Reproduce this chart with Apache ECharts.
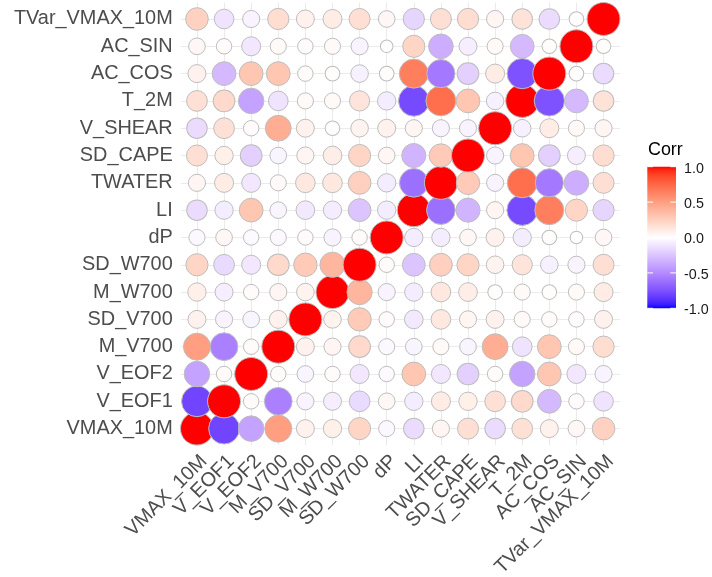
<!DOCTYPE html>
<html>
<head>
<meta charset="utf-8">
<script src="https://cdn.jsdelivr.net/npm/echarts@6/dist/echarts.min.js"></script>
<style>
  html, body { margin: 0; padding: 0; background: #ffffff; }
  #chart { width: 712px; height: 577px; }
</style>
</head>
<body>
<div id="chart"></div>
<script>
// Variable names, in axis order (x: left to right, y: bottom to top)
const variables = ['VMAX_10M', 'V_EOF1', 'V_EOF2', 'M_V700', 'SD_V700', 'M_W700', 'SD_W700', 'dP',
  'LI', 'TWATER', 'SD_CAPE', 'V_SHEAR', 'T_2M', 'AC_COS', 'AC_SIN', 'TVar_VMAX_10M'];

// Correlation matrix, one row per variable (same order as above)
const corrRows = [
  [1, -0.8, -0.4, 0.5, 0.07, 0.08, 0.22, -0.03, -0.15, 0.05, 0.17, -0.15, 0.16, 0.07, 0.04, 0.24],
  [-0.8, 1, 0.02, -0.55, -0.05, -0.07, -0.16, 0.04, -0.08, 0.1, 0.08, 0.16, 0.2, -0.3, 0.02, -0.12],
  [-0.4, 0.02, 1, 0.02, -0.04, 0.02, -0.1, -0.02, 0.3, -0.1, -0.2, 0.02, -0.4, 0.3, -0.1, -0.05],
  [0.5, -0.55, 0.02, 1, 0.07, 0.05, 0.2, -0.03, -0.04, 0.03, -0.04, 0.42, -0.12, 0.3, 0.03, 0.18],
  [0.07, -0.05, -0.04, 0.07, 1, 0.06, 0.28, 0.02, -0.09, 0.12, 0.05, 0.07, 0.03, 0.02, 0.02, 0.07],
  [0.08, -0.07, 0.02, 0.05, 0.06, 1, 0.38, -0.05, -0.08, 0.12, 0.09, 0.01, 0.03, 0.01, 0.03, 0.1],
  [0.22, -0.16, -0.1, 0.2, 0.28, 0.38, 1, 0.02, -0.25, 0.25, 0.22, 0.06, 0.14, -0.06, -0.05, 0.17],
  [-0.03, 0.04, -0.02, -0.03, 0.02, -0.05, 0.02, 1, -0.08, -0.08, 0.04, 0.07, -0.08, 0.01, 0.0, 0.04],
  [-0.15, -0.08, 0.3, -0.04, -0.09, -0.08, -0.25, -0.08, 1, -0.62, -0.32, 0.05, -0.78, 0.65, 0.22, -0.18],
  [0.05, 0.1, -0.1, 0.03, 0.12, 0.12, 0.25, -0.08, -0.62, 1, 0.28, -0.05, 0.72, -0.58, -0.35, 0.17],
  [0.17, 0.08, -0.2, -0.04, 0.05, 0.09, 0.22, 0.04, -0.32, 0.28, 1, -0.05, 0.3, -0.2, -0.07, 0.18],
  [-0.15, 0.16, 0.02, 0.42, 0.07, 0.01, 0.06, 0.07, 0.05, -0.05, -0.05, 1, -0.06, 0.1, 0.03, 0.05],
  [0.16, 0.2, -0.4, -0.12, 0.03, 0.03, 0.14, -0.08, -0.78, 0.72, 0.3, -0.06, 1, -0.75, -0.3, 0.15],
  [0.07, -0.3, 0.3, 0.3, 0.02, 0.01, -0.06, 0.01, 0.65, -0.58, -0.2, 0.1, -0.75, 1, 0.01, -0.15],
  [0.04, 0.02, -0.1, 0.03, 0.02, 0.03, -0.05, 0.0, 0.22, -0.35, -0.07, 0.03, -0.3, 0.01, 1, 0.01],
  [0.24, -0.12, -0.05, 0.18, 0.07, 0.1, 0.17, 0.04, -0.18, 0.17, 0.18, 0.05, 0.15, -0.15, 0.01, 1]
];

// Colour bar breaks
const legendBreaks = [-1, -0.5, 0, 0.5, 1];
const legendTitle = 'Corr';

// ---- diverging blue / white / red palette, interpolated in CIE Lab ----
function toLinear(c) { c /= 255; return c <= 0.04045 ? c / 12.92 : Math.pow((c + 0.055) / 1.055, 2.4); }
function toGamma(c) { const v = c <= 0.0031308 ? 12.92 * c : 1.055 * Math.pow(c, 1 / 2.4) - 0.055; return Math.round(Math.max(0, Math.min(1, v)) * 255); }
const WX = 0.95047, WY = 1.0, WZ = 1.08883;
function rgbToLab(rgb) {
  const r = toLinear(rgb[0]), g = toLinear(rgb[1]), b = toLinear(rgb[2]);
  const x = (0.4124 * r + 0.3576 * g + 0.1805 * b) / WX;
  const y = (0.2126 * r + 0.7152 * g + 0.0722 * b) / WY;
  const z = (0.0193 * r + 0.1192 * g + 0.9505 * b) / WZ;
  const f = t => t > 216 / 24389 ? Math.cbrt(t) : (24389 / 27 * t + 16) / 116;
  const fx = f(x), fy = f(y), fz = f(z);
  return [116 * fy - 16, 500 * (fx - fy), 200 * (fy - fz)];
}
function labToRgb(lab) {
  const fy = (lab[0] + 16) / 116, fx = fy + lab[1] / 500, fz = fy - lab[2] / 200;
  const inv = t => t * t * t > 216 / 24389 ? t * t * t : (116 * t - 16) / (24389 / 27);
  const x = inv(fx) * WX, y = inv(fy) * WY, z = inv(fz) * WZ;
  const r = 3.2406 * x - 1.5372 * y - 0.4986 * z;
  const g = -0.9689 * x + 1.8758 * y + 0.0415 * z;
  const b = 0.0557 * x - 0.2040 * y + 1.0570 * z;
  return 'rgb(' + toGamma(r) + ',' + toGamma(g) + ',' + toGamma(b) + ')';
}
const LAB_LOW = rgbToLab([0, 0, 255]), LAB_MID = rgbToLab([255, 255, 255]), LAB_HIGH = rgbToLab([255, 0, 0]);
function corrColor(v) {
  const end = v < 0 ? LAB_LOW : LAB_HIGH, t = Math.min(1, Math.abs(v));
  return labToRgb([0, 1, 2].map(k => LAB_MID[k] + (end[k] - LAB_MID[k]) * t));
}
const paletteStops = [];
for (let k = 0; k <= 40; k++) paletteStops.push(corrColor(-1 + k / 20));

// ---- scatter data: [x index, y index, r], drawn row by row from the bottom ----
const points = [];
for (let yi = 0; yi < variables.length; yi++) {
  for (let xi = 0; xi < variables.length; xi++) {
    points.push([xi, yi, corrRows[yi][xi]]);
  }
}
const idx = variables.map((_, i) => i);
const FONT = '"Liberation Sans", Arial, sans-serif';

const chart = echarts.init(document.getElementById('chart'), null, { renderer: 'canvas' });

// Plot panel: each axis spans from -0.6 to n-1+0.6 (panel padding around the cells)
const n = variables.length, pad = 0.6;
const panel = { left: 180.7, top: 2.6, width: 439.1, height: 442.4 };
const unitX = panel.width / (n - 1 + 2 * pad), unitY = panel.height / (n - 1 + 2 * pad);
// Label band grid: one band per variable, centred on the same positions
const bands = {
  left: panel.left + (pad - 0.5) * unitX, width: n * unitX,
  top: panel.top + (pad - 0.5) * unitY, height: n * unitY
};

// Colour bar geometry
const bar = { x: 647.3, y: 166.7, w: 28.7, h: 141.6 };
const barY = v => bar.y + (1 - (v + 1) / 2) * bar.h;
const barGradient = [];
for (let k = 0; k <= 40; k++) barGradient.push({ offset: k / 40, color: corrColor(1 - k / 20) });

const legendGraphics = [
  { type: 'text', left: 648, top: 141, style: { text: legendTitle, font: '17.9px ' + FONT, fill: '#000000' } },
  { type: 'rect', shape: { x: bar.x, y: bar.y, width: bar.w, height: bar.h },
    style: { fill: new echarts.graphic.LinearGradient(0, 0, 0, 1, barGradient) } }
];
legendBreaks.forEach(v => {
  const y = barY(v);
  legendGraphics.push({ type: 'line', shape: { x1: bar.x, y1: y, x2: bar.x + bar.w / 5, y2: y }, style: { stroke: '#ffffff', lineWidth: 1 } });
  legendGraphics.push({ type: 'line', shape: { x1: bar.x + bar.w * 4 / 5, y1: y, x2: bar.x + bar.w, y2: y }, style: { stroke: '#ffffff', lineWidth: 1 } });
  legendGraphics.push({ type: 'text', x: 684, y: y + 2,
    style: { text: v.toFixed(1), font: '14.3px ' + FONT, fill: '#1a1a1a', textAlign: 'left', textVerticalAlign: 'middle' } });
});

const labelStyle = { fontSize: 19.9, color: '#4D4D4D', fontFamily: FONT };

chart.setOption({
  animation: false,
  backgroundColor: '#ffffff',
  grid: [
    { left: panel.left, top: panel.top, width: panel.width, height: panel.height, containLabel: false, outerBoundsMode: 'none' },
    { left: bands.left, top: bands.top, width: bands.width, height: bands.height, containLabel: false, outerBoundsMode: 'none' }
  ],
  xAxis: [
    { // value axis: positions and grid lines
      gridIndex: 0, type: 'value', min: -pad, max: n - 1 + pad,
      axisLine: { show: false },
      axisTick: { show: false, customValues: idx },
      axisLabel: { show: false },
      splitLine: { show: true, lineStyle: { color: '#EBEBEB', width: 1.1 } }
    },
    { // category axis: variable names
      gridIndex: 1, type: 'category', data: variables, boundaryGap: true,
      axisLine: { show: false }, axisTick: { show: false }, splitLine: { show: false },
      axisLabel: Object.assign({ interval: 0, rotate: 45, align: 'right', verticalAlign: 'top', margin: 9 }, labelStyle)
    }
  ],
  yAxis: [
    {
      gridIndex: 0, type: 'value', min: -pad, max: n - 1 + pad,
      axisLine: { show: false },
      axisTick: { show: false, customValues: idx },
      axisLabel: { show: false },
      splitLine: { show: true, lineStyle: { color: '#EBEBEB', width: 1.1 } }
    },
    {
      gridIndex: 1, type: 'category', data: variables, boundaryGap: true,
      axisLine: { show: false }, axisTick: { show: false }, splitLine: { show: false },
      axisLabel: Object.assign({ interval: 0, margin: 10.7 }, labelStyle)
    }
  ],
  visualMap: {
    show: false, type: 'continuous', dimension: 2, min: -1, max: 1, seriesIndex: 0,
    inRange: { color: paletteStops }
  },
  series: [{
    type: 'scatter',
    xAxisIndex: 0, yAxisIndex: 0,
    data: points,
    symbol: 'circle',
    symbolSize: val => 12.6 + 20.4 * Math.sqrt(Math.abs(val[2])),
    itemStyle: { borderColor: '#BEBEBE', borderWidth: 1, opacity: 1 },
    emphasis: { disabled: true }
  }],
  graphic: legendGraphics
});
</script>
</body>
</html>
